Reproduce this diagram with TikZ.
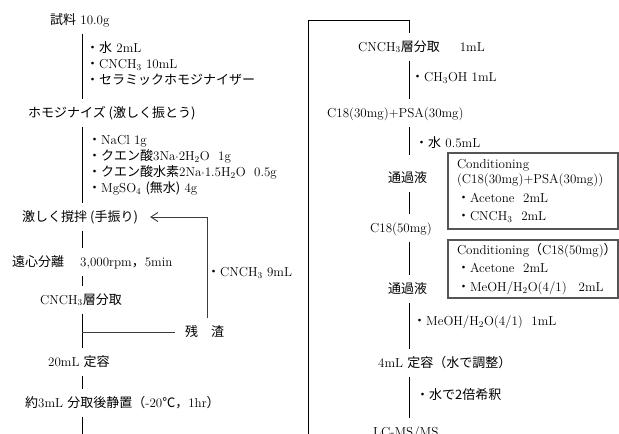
\documentclass[tikz,border=0pt]{standalone}
\usepackage{fontspec}
\usepackage{tikz}
\usetikzlibrary{arrows.meta, positioning}
\newfontfamily\jp{Noto Sans CJK JP}
\definecolor{boxgray}{RGB}{85,85,85}
\definecolor{linegray}{RGB}{60,60,60}

\begin{document}
\begin{tikzpicture}[x=1pt, y=-1pt,
    stage/.style={anchor=west, inner xsep=0pt, inner ysep=0pt, text height=10pt,
                  text depth=2pt, minimum height=27pt, font=\fontsize{13}{16}\selectfont},
    addlist/.style={anchor=west, inner sep=0pt, align=left, font=\fontsize{13}{16}\selectfont},
    condbox/.style={draw=boxgray, line width=1.3pt, inner xsep=9pt, inner ysep=0pt,
                    text width=152pt, align=left, font=\fontsize{13}{15.5}\selectfont},
    flow/.style={line width=0.9pt},
    back/.style={line width=0.9pt, linegray}]
  \useasboundingbox (0,0) rectangle (619,434);
  \clip (0,0) rectangle (619,434);
  \coordinate (spineL) at (82,0);
  \coordinate (spineR) at (409,0);
  \coordinate (loopbot) at (308,470);
  \coordinate (looptop) at (308,20);

  % left column
  \node[stage] (sample)   at (50,20)  {{\jp 試料} 10.0g};
  \node[addlist] (addA)   at (86,64)  {{\jp ・水} 2mL\\{\jp ・}CNCH$_3$ 10mL\\{\jp ・セラミックホモジナイザー}};
  \node[stage] (homo)     at (28,113) {{\jp ホモジナイズ (激しく振とう)}};
  \node[addlist] (addB)   at (88,165) {{\jp ・}NaCl 1g\\
      {\jp ・クエン酸}3Na$\cdot$2H$_2$O~~1g\\
      {\jp ・クエン酸水素}2Na$\cdot$1.5H$_2$O~~0.5g\\
      {\jp ・}MgSO$_4$ {\jp (無水)} 4g};
  \node[stage] (shake)    at (22,217) {{\jp 激しく撹拌 (手振り)}};
  \node[stage] (centri)   at (12,262) {{\jp 遠心分離}\hspace{16pt}3,000rpm{\jp ，}5min};
  \node[stage] (layer)    at (40,300) {CNCH$_3${\jp 層分取}};
  \node[stage] (residue)  at (185,332) {{\jp 残　渣}};
  \node[addlist] (addC)   at (207,273) {{\jp ・}CNCH$_3$ 9mL};
  \node[stage] (vol20)    at (48,362) {20mL {\jp 定容}};
  \node[stage] (aliquot)  at (25,403) {{\jp 約}3mL {\jp 分取後静置（}-20{\jp ℃，}1hr{\jp ）}};

  % right column
  \node[stage] (rlayer)   at (358,47) {CNCH$_3${\jp 層分取}\hspace{20pt}1mL};
  \node[addlist] (addD)   at (411,78) {{\jp ・}CH$_3$OH 1mL};
  \node[stage] (spe1)     at (327,113) {C18(30mg)+PSA(30mg)};
  \node[addlist] (addE)   at (415,143) {{\jp ・水} 0.5mL};
  \node[stage] (pass1)    at (388,178) {{\jp 通過液}};
  \node[stage] (spe2)     at (370,228) {C18(50mg)};
  \node[stage] (pass2)    at (388,289) {{\jp 通過液}};
  \node[addlist] (addF)   at (413,322) {{\jp ・}MeOH/H$_2$O(4/1)~~1mL};
  \node[stage] (vol4)     at (378,363) {4mL {\jp 定容（水で調整）}};
  \node[addlist] (addG)   at (416,395) {{\jp ・水で2倍希釈}};
  \node[stage] (lcms)     at (373,432) {LC-MS/MS};

  \node[condbox, minimum height=76pt] (cond1) at (533,191)
    {Conditioning\\(C18(30mg)+PSA(30mg))\\\kern3pt{\jp ・}Acetone~~2mL\\\kern3pt{\jp ・}CNCH$_3$~~2mL};
  \node[condbox, minimum height=58pt] (cond2) at (533,269)
    {Conditioning{\jp （}C18(50mg){\jp ）}\\\kern3pt{\jp ・}Acetone~~2mL\\\kern3pt{\jp ・}MeOH/H$_2$O(4/1)\kern12pt2mL};

  \foreach \a/\b in {sample/homo, homo/shake, shake/centri, centri/layer, layer/vol20, vol20/aliquot}
    \draw[flow] (\a.south -| spineL) -- (\b.north -| spineL);
  \foreach \a/\b in {rlayer/spe1, pass1/spe2, spe2/pass2, pass2/vol4, vol4/lcms}
    \draw[flow] (\a.south -| spineR) -- (\b.north -| spineR);
  \draw[flow, shorten >=9pt] (spe1.south -| spineR) -- (pass1.north -| spineR);

  \draw[back, shorten >=10pt] (residue.west -| spineL) -- (residue.west);
  \draw[back, shorten >=12pt, -{Straight Barb[length=7pt, width=9pt]}]
    ([xshift=3pt]residue.north) |- (shake.east);
  \draw[flow] (aliquot.south -| spineL) |- (loopbot) -- (looptop) -| (rlayer.north -| spineR);
\end{tikzpicture}
\end{document}
